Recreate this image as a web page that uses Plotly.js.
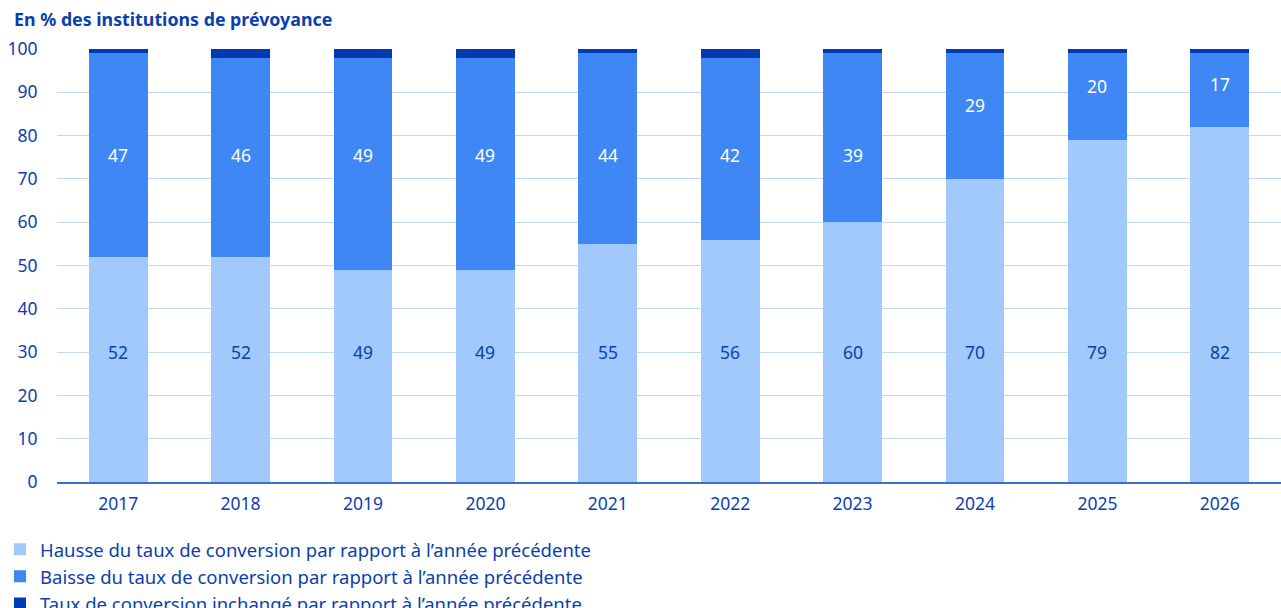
<!DOCTYPE html>
<html>
<head>
<meta charset="utf-8">
<script src="https://cdn.plot.ly/plotly-3.0.1.min.js"></script>
<style>html,body{margin:0;padding:0;background:#fff;}#chart{width:1281px;height:608px;}</style>
</head>
<body>
<div id="chart"></div>
<script>
const years = ['2017','2018','2019','2020','2021','2022','2023','2024','2025','2026'];
const hausse = [52,52,49,49,55,56,60,70,79,82];
const baisse = [47,46,49,49,44,42,39,29,20,17];
const inchange = [1,2,2,2,1,2,1,1,1,1];
const seriesNames = [
  'Hausse du taux de conversion par rapport à l’année précédente',
  'Baisse du taux de conversion par rapport à l’année précédente',
  'Taux de conversion inchangé par rapport à l’année précédente'
];
const yTicks = [0,10,20,30,40,50,60,70,80,90,100];

const FONT = '"Noto Sans", "Open Sans", sans-serif';
const TXT = '#0b3fae';
const LBL = 17.5;

const traces = [
  {type:'bar', name:seriesNames[0], x:years, y:hausse, marker:{color:'#a1c9fb'}, hoverinfo:'skip'},
  {type:'bar', name:seriesNames[1], x:years, y:baisse, marker:{color:'#3e87f4'}, hoverinfo:'skip'},
  {type:'bar', name:seriesNames[2], x:years, y:inchange, marker:{color:'#0039b4'}, hoverinfo:'skip'}
];

// Label placement: lower segment labels sit on a common line; upper segment labels
// sit on a common line when the segment covers it, otherwise near the segment centre.
const LOW_LINE = 30, HIGH_LINE = 75.5;
const annotations = [];
years.forEach((yr, i) => {
  annotations.push({x:i, y:Math.min(LOW_LINE, hausse[i]/2 + LOW_LINE), text:String(hausse[i]),
    showarrow:false, font:{family:FONT, size:LBL, color:TXT}, xanchor:'center', yanchor:'middle'});
  const yMid = (HIGH_LINE - hausse[i] >= 8) ? HIGH_LINE : Math.min(hausse[i] + baisse[i]/2 + 2.5, 92);
  annotations.push({x:i, y:yMid, text:String(baisse[i]),
    showarrow:false, font:{family:FONT, size:LBL, color:'#ffffff'}, xanchor:'center', yanchor:'middle'});
});

const layout = {
  width:1281, height:608,
  margin:{l:57, r:0, t:49, b:126, autoexpand:false},
  barmode:'stack', bargap:0.52,
  paper_bgcolor:'#fff', plot_bgcolor:'#fff',
  font:{family:FONT, color:TXT, size:17.5},
  title:{text:'<b>En % des institutions de prévoyance</b>', xref:'container', yref:'container',
         x:0.011, xanchor:'left', y:0.967, yanchor:'middle', font:{size:17.8, color:TXT, family:FONT}},
  xaxis:{type:'category', range:[-0.5, years.length - 0.5], showgrid:false, showline:true,
         linecolor:'#3a6fcf', linewidth:2,
         ticks:'outside', ticklen:5, tickcolor:'rgba(0,0,0,0)', tickfont:{size:17.5, color:TXT}},
  yaxis:{range:[0,100], tickvals:yTicks, showgrid:true, gridcolor:'#bfdaf9', gridwidth:1,
         zeroline:false, showline:false, ticks:'outside', ticklen:15, tickcolor:'rgba(0,0,0,0)',
         tickfont:{size:17.5, color:TXT}},
  annotations:annotations,
  showlegend:true,
  legend:{orientation:'v', xref:'container', yref:'container', x:0, xanchor:'left',
          y:0.127, yanchor:'top', traceorder:'normal', font:{size:18.5, color:TXT, family:FONT},
          itemwidth:30, tracegroupgap:0, bgcolor:'rgba(0,0,0,0)'}
};

Plotly.newPlot('chart', traces, layout, {displayModeBar:false, staticPlot:true});
</script>
</body>
</html>
